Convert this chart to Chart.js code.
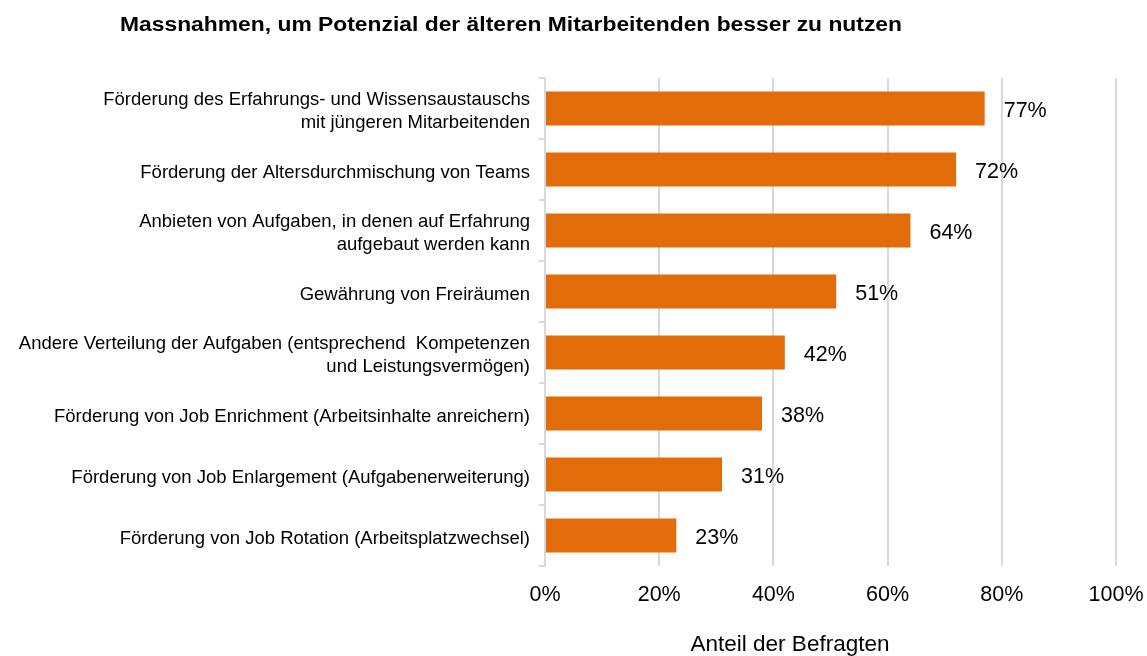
<!DOCTYPE html>
<html>
<head>
<meta charset="utf-8">
<script src="https://cdn.jsdelivr.net/npm/chart.js@4.4.1/dist/chart.umd.min.js"></script>
<style>
  html, body { margin: 0; padding: 0; background: #ffffff; }
  #wrap { width: 1147px; height: 656px; position: relative; }
</style>
</head>
<body>
<div id="wrap"><canvas id="c" width="1147" height="656"></canvas></div>
<script>
const chartTitle = "Massnahmen, um Potenzial der älteren Mitarbeitenden besser zu nutzen";
const axisTitle = "Anteil der Befragten";
const categories = [
  ["Förderung des Erfahrungs- und Wissensaustauschs", "mit jüngeren Mitarbeitenden"],
  "Förderung der Altersdurchmischung von Teams",
  ["Anbieten von Aufgaben, in denen auf Erfahrung", "aufgebaut werden kann"],
  "Gewährung von Freiräumen",
  ["Andere Verteilung der Aufgaben (entsprechend  Kompetenzen", "und Leistungsvermögen)"],
  "Förderung von Job Enrichment (Arbeitsinhalte anreichern)",
  "Förderung von Job Enlargement (Aufgabenerweiterung)",
  "Förderung von Job Rotation (Arbeitsplatzwechsel)"
];
const values = [77, 72, 64, 51, 42, 38, 31, 23];
const xTicks = [0, 20, 40, 60, 80, 100];

const FONT = "'Liberation Sans', Arial, sans-serif";

const textPlugin = {
  id: 'texts',
  afterDraw(chart) {
    const ctx = chart.ctx;
    ctx.save();
    // title (reference glyphs are horizontally wide)
    ctx.fillStyle = '#000000';
    ctx.font = "bold 19.5px " + FONT;
    ctx.textAlign = 'left';
    ctx.textBaseline = 'alphabetic';
    const w = ctx.measureText(chartTitle).width;
    const sx = 782 / w;
    ctx.save();
    ctx.translate(120, 31);
    ctx.scale(sx, 1);
    ctx.fillText(chartTitle, 0, 0);
    ctx.restore();
    // axis title
    ctx.font = "22.5px " + FONT;
    ctx.textAlign = 'center';
    ctx.textBaseline = 'middle';
    ctx.fillText(axisTitle, 790, 645);
    // data labels
    const meta = chart.getDatasetMeta(0);
    ctx.font = "21.5px " + FONT;
    ctx.textAlign = 'left';
    ctx.fillStyle = '#000000';
    meta.data.forEach((bar, i) => {
      ctx.fillText(values[i] + '%', bar.x + 19, bar.y + 3);
    });
    ctx.restore();
  }
};

new Chart(document.getElementById('c'), {
  type: 'bar',
  data: {
    labels: categories,
    datasets: [{
      data: values,
      backgroundColor: '#E36C0A',
      borderWidth: 0,
      barPercentage: 0.56,
      categoryPercentage: 1.0
    }]
  },
  options: {
    indexAxis: 'y',
    responsive: false,
    animation: false,
    layout: { padding: { top: 78, right: 31, bottom: 51, left: 0 } },
    plugins: {
      legend: { display: false },
      title: { display: false },
      tooltip: { enabled: false }
    },
    scales: {
      x: {
        min: 0,
        max: 100,
        afterBuildTicks(scale) { scale.ticks = xTicks.map(v => ({ value: v })); },
        afterFit(scale) { scale.height = 39; scale.paddingRight = 0; scale.paddingLeft = 0; },
        grid: { color: '#D9D9D9', lineWidth: 2, drawTicks: false },
        border: { display: false },
        ticks: {
          padding: 16,
          color: '#000000',
          font: { family: FONT, size: 21.5 },
          maxRotation: 0,
          callback: v => v + '%'
        }
      },
      y: {
        afterFit(scale) { scale.width = 545; },
        grid: {
          drawOnChartArea: false,
          drawTicks: true,
          tickLength: 6,
          color: '#D9D9D9',
          lineWidth: 2,
          offset: true
        },
        border: { display: true, color: '#D9D9D9', width: 2 },
        ticks: {
          padding: 9,
          labelOffset: 3,
          color: '#000000',
          font: { family: FONT, size: 18.5, lineHeight: 1.2 },
          crossAlign: 'near'
        }
      }
    }
  },
  plugins: [textPlugin]
});
</script>
</body>
</html>
